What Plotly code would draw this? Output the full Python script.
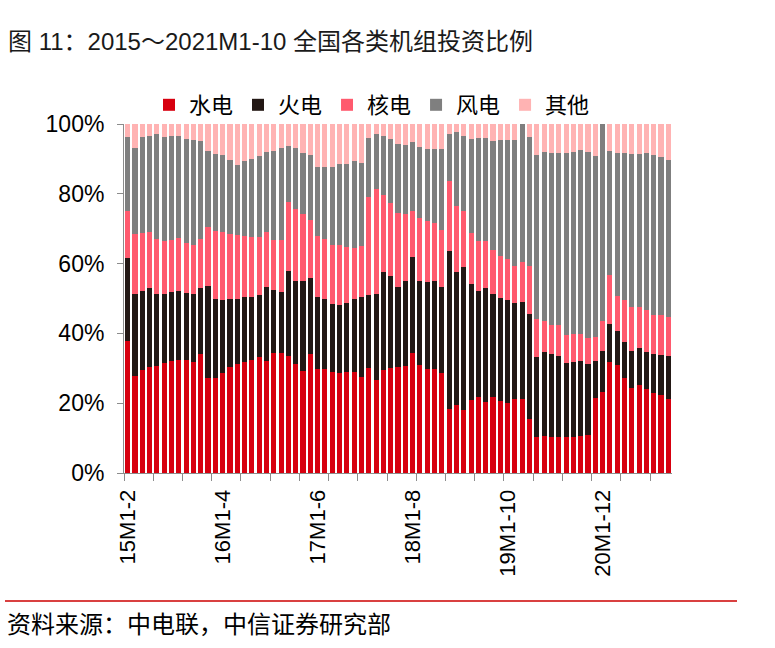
import plotly.graph_objects as go

# ---- data (percent of investment by unit type) ----
years = ["15", "16", "17", "18", "19", "20", "21"]
last_month = {"21": 10}
categories = [f"{y}M1-{m}" for y in years for m in range(2, last_month.get(y, 12) + 1)]

shown_labels = ["15M1-2", "16M1-4", "17M1-6", "18M1-8", "19M1-10", "20M1-12"]
y_ticks = [0, 20, 40, 60, 80, 100]
y_tick_text = ["0%", "20%", "40%", "60%", "80%", "100%"]

hydro = [37.8, 27.9, 29.4, 30.4, 30.6, 31.5, 32.0, 32.3, 32.3, 31.7, 34.0,
         27.2, 27.1, 28.7, 30.3, 31.3, 31.8, 32.3, 33.2, 32.0, 34.4, 34.3,
         33.5, 31.3, 29.2, 34.1, 29.8, 29.7, 29.0, 28.6, 29.0, 28.9, 27.5,
         30.1, 26.6, 29.6, 30.1, 30.5, 30.8, 34.4, 30.9, 29.9, 29.7, 28.6,
         18.2, 19.5, 18.0, 20.9, 21.8, 20.4, 21.7, 20.7, 20.1, 21.3, 21.2,
         15.6, 10.2, 10.7, 10.4, 10.4, 10.3, 10.3, 10.5, 10.8, 21.4, 23.1,
         31.9, 30.9, 27.2, 24.4, 25.1, 24.1, 22.9, 22.3, 21.2]

thermal = [23.7, 23.5, 22.7, 22.5, 20.8, 19.9, 19.9, 19.9, 19.4, 19.7, 19.1,
           26.5, 22.8, 21.0, 19.6, 18.6, 18.5, 18.2, 17.8, 21.3, 17.9, 17.7,
           24.5, 23.8, 25.7, 21.8, 20.5, 20.2, 19.5, 19.6, 19.8, 21.0, 22.8,
           21.0, 24.8, 28.0, 26.4, 22.8, 24.1, 27.6, 24.0, 24.7, 25.2, 24.7,
           45.3, 38.1, 40.9, 33.2, 30.3, 32.7, 29.7, 29.4, 29.6, 27.3, 27.7,
           30.1, 22.9, 23.9, 23.7, 23.0, 21.1, 21.6, 21.6, 20.5, 10.7, 11.9,
           10.8, 9.9, 10.2, 10.6, 10.6, 10.6, 11.1, 11.6, 12.4]

nuclear = [13.7, 17.0, 16.6, 16.2, 15.6, 15.2, 14.9, 15.1, 14.3, 13.8, 13.9,
           16.9, 19.5, 19.3, 18.7, 18.4, 17.5, 17.0, 16.6, 15.7, 14.6, 14.9,
           19.7, 20.6, 19.4, 16.6, 17.6, 17.2, 16.7, 17.2, 16.0, 14.7, 14.7,
           28.1, 30.1, 22.0, 21.0, 21.3, 19.4, 13.0, 18.3, 17.7, 16.8, 16.2,
           20.1, 18.9, 16.2, 14.8, 14.4, 13.4, 12.6, 12.0, 11.6, 10.7, 11.5,
           13.6, 11.1, 9.0, 8.3, 9.0, 8.2, 8.0, 7.8, 7.5, 7.0, 8.5,
           14.0, 9.8, 12.1, 12.6, 11.9, 12.1, 11.3, 11.4, 11.0]

wind = [21.2, 24.8, 27.7, 27.5, 30.0, 29.8, 29.8, 29.3, 29.8, 30.3, 28.2,
        21.6, 21.9, 22.0, 21.0, 20.0, 21.5, 22.6, 23.2, 23.1, 25.5, 26.1,
        16.1, 17.5, 17.5, 18.5, 19.7, 20.5, 22.4, 23.0, 23.8, 24.7, 23.8,
        16.9, 15.5, 17.1, 18.1, 19.6, 19.6, 19.8, 20.3, 20.6, 21.2, 23.4,
        13.6, 21.1, 21.6, 26.7, 29.4, 29.5, 31.0, 33.4, 34.2, 36.2, 39.6,
        37.1, 47.0, 48.3, 49.2, 49.2, 52.0, 52.2, 52.6, 53.1, 51.8, 56.5,
        35.6, 41.0, 42.1, 43.9, 43.7, 44.8, 45.7, 45.3, 45.2]

other = [3.6, 6.8, 3.6, 3.4, 3.0, 3.6, 3.4, 3.4, 4.2, 4.5, 4.8,
         7.8, 8.7, 9.0, 10.4, 11.7, 10.7, 9.9, 9.2, 7.9, 7.6, 7.0,
         6.2, 6.8, 8.2, 9.0, 12.4, 12.4, 12.4, 11.6, 11.4, 10.7, 11.2,
         3.9, 3.0, 3.3, 4.4, 5.8, 6.1, 5.2, 6.5, 7.1, 7.1, 7.1,
         2.8, 2.4, 3.3, 4.4, 4.1, 4.0, 5.0, 4.5, 4.5, 4.5, 0.0,
         3.6, 8.8, 8.1, 8.4, 8.4, 8.4, 7.9, 7.5, 8.1, 9.1, 0.0,
         7.7, 8.4, 8.4, 8.5, 8.7, 8.4, 9.0, 9.4, 10.2]

series_names = ["水电", "火电", "核电", "风电", "其他"]
series_colors = ["#D7000F", "#231815", "#FF5A6E", "#7F7F7F", "#FFB3B3"]
series_values = [hydro, thermal, nuclear, wind, other]

FONT = "Liberation Sans, Arial, Noto Sans CJK SC, sans-serif"
CJK = "Noto Sans CJK SC, Liberation Sans, sans-serif"

fig = go.Figure()
for name, color, vals in zip(series_names, series_colors, series_values):
    fig.add_trace(go.Bar(x=categories, y=vals, name=name,
                         marker=dict(color=color, line=dict(width=0))))

# helper (empty) trace for the minor tick axis
fig.add_trace(go.Scatter(x=[], y=[], xaxis="x2", showlegend=False, hoverinfo="skip"))

W, H = 775, 648
L, R, T, B = 124, 103, 124, 175
pw, ph = W - L - R, H - T - B

def px_x(p):
    return (p - L) / pw

def px_y(p):
    return (H - B - p) / ph

fig.update_layout(
    width=W, height=H,
    margin=dict(l=L, r=R, t=T, b=B, pad=0),
    paper_bgcolor="white", plot_bgcolor="white",
    barmode="stack", bargap=0.3,
    font=dict(family=FONT, size=22, color="#000000"),
    title=dict(text="图 11：2015～2021M1-10 全国各类机组投资比例",
               x=8 / W, xref="container", xanchor="left",
               y=1 - 42 / H, yref="container", yanchor="middle",
               font=dict(family=FONT, size=24, color="#1a1a1a")),
    legend=dict(orientation="h", x=px_x(372), xanchor="center",
                y=px_y(105), yanchor="middle", traceorder="normal",
                font=dict(family=CJK, size=22, color="#000000"),
                itemwidth=30, tracegroupgap=0, bgcolor="rgba(0,0,0,0)"),
    xaxis=dict(type="category", categoryorder="array", categoryarray=categories,
               tickmode="array", tickvals=shown_labels, ticktext=shown_labels,
               tickangle=-90, ticks="outside", ticklen=7, tickcolor="rgba(0,0,0,0)",
               showline=True, linecolor="#8c8c8c", linewidth=1,
               showgrid=False, zeroline=False,
               tickfont=dict(family=FONT, size=22, color="#000000")),
    xaxis2=dict(overlaying="x", anchor="y", side="bottom", type="linear",
                range=[-0.5, len(categories) - 0.5],
                tickmode="linear", tick0=-0.5, dtick=4,
                ticks="outside", ticklen=7, tickcolor="#8c8c8c", tickwidth=1,
                showticklabels=False, showline=False, showgrid=False, zeroline=False),
    yaxis=dict(range=[0, 100], tickmode="array", tickvals=y_ticks, ticktext=y_tick_text,
               ticks="outside", ticklen=6, tickcolor="#8c8c8c", ticklabelstandoff=8,
               showline=True, linecolor="#8c8c8c", linewidth=1,
               showgrid=False, zeroline=False,
               tickfont=dict(family=FONT, size=23, color="#000000")),
    shapes=[dict(type="line", xref="paper", yref="paper",
                 x0=px_x(5), x1=px_x(737), y0=px_y(601), y1=px_y(601),
                 line=dict(color="#D94040", width=2))],
    annotations=[dict(text="资料来源：中电联，中信证券研究部",
                      xref="paper", yref="paper", x=px_x(5), y=px_y(622),
                      xanchor="left", yanchor="middle", showarrow=False,
                      font=dict(family=CJK, size=24, color="#000000"))],
)

fig.write_html("out.html", config={"displayModeBar": False},
               post_script="document.body.style.margin='0px';")
